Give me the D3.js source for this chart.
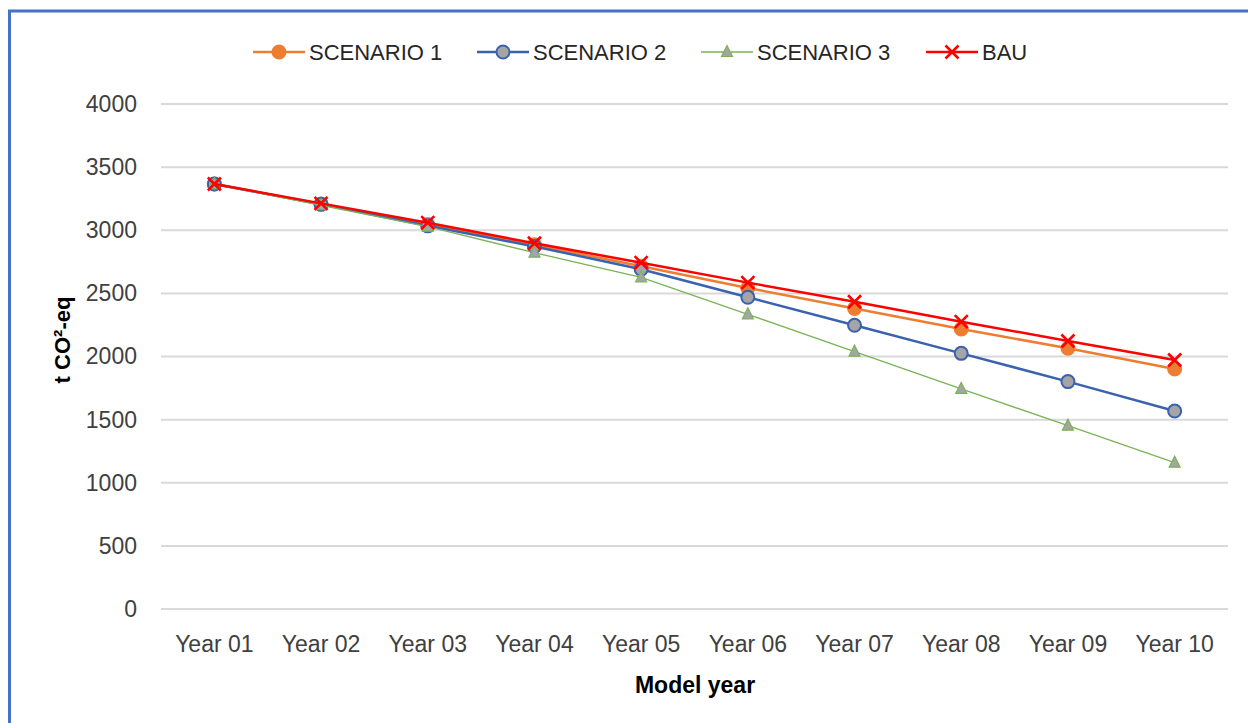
<!DOCTYPE html>
<html>
<head>
<meta charset="utf-8">
<script src="https://cdn.jsdelivr.net/npm/d3@7"></script>
<style>
  html, body { margin: 0; padding: 0; background: #fff; }
  svg { display: block; font-family: "Liberation Sans", Arial, sans-serif; }
</style>
</head>
<body>
<svg id="chart" width="1248" height="723"></svg>
<script>
const categories = ["Year 01","Year 02","Year 03","Year 04","Year 05","Year 06","Year 07","Year 08","Year 09","Year 10"];
const scenario1 = [3366, 3208, 3045, 2885, 2715, 2543, 2381, 2218, 2065, 1901];
const scenario2 = [3366, 3205, 3035, 2872, 2691, 2469, 2247, 2025, 1801, 1568];
const scenario3 = [3366, 3198, 3028, 2822, 2627, 2334, 2038, 1743, 1452, 1159];
const bau       = [3366, 3213, 3060, 2897, 2743, 2585, 2434, 2276, 2123, 1972];
const yTicks = [0, 500, 1000, 1500, 2000, 2500, 3000, 3500, 4000];
const seriesNames = ["SCENARIO 1", "SCENARIO 2", "SCENARIO 3", "BAU"];

(function () {
const series = [
  {name: seriesNames[0], values: scenario1, stroke: "#ED7D31", width: 2.5, marker: "circle", fill: "#ED7D31", mstroke: "#ED7D31"},
  {name: seriesNames[1], values: scenario2, stroke: "#3A62AE", width: 2.5, marker: "circle", fill: "#A5A5A5", mstroke: "#3A62AE"},
  {name: seriesNames[2], values: scenario3, stroke: "#7AB356", width: 1.3, marker: "triangle", fill: "#A5A5A5", mstroke: "#7AB356"},
  {name: seriesNames[3], values: bau,       stroke: "#FF0000", width: 2.5, marker: "cross", fill: "none", mstroke: "#FF0000"}
];

const svg = d3.select("#chart");

// outer border
svg.append("path")
  .attr("d", "M9.5,760 L9.5,11 L1260,11")
  .attr("fill", "none").attr("stroke", "#4472C4").attr("stroke-width", 3);

const mLeft = 161, mRight = 1228, mTop = 104, mBottom = 609;
const x = d3.scaleBand().domain(categories).range([mLeft, mRight]);
const y = d3.scaleLinear().domain([0, 4000]).range([mBottom, mTop]);

// gridlines
svg.append("g").selectAll("line").data(yTicks).join("line")
  .attr("x1", mLeft).attr("x2", mRight)
  .attr("y1", d => y(d)).attr("y2", d => y(d))
  .attr("stroke", "#D9D9D9").attr("stroke-width", 2);

// y axis
const yAxis = svg.append("g").attr("transform", `translate(${mLeft},0)`)
  .call(d3.axisLeft(y).tickValues(yTicks).tickSize(0).tickPadding(24).tickFormat(d3.format("d")));
yAxis.select(".domain").remove();
yAxis.selectAll("text").attr("font-size", 23).attr("fill", "#404040")
  .attr("font-family", "Liberation Sans, Arial, sans-serif");

// x axis
const xAxis = svg.append("g").attr("transform", `translate(0,${mBottom})`)
  .call(d3.axisBottom(x).tickSize(0).tickPadding(27));
xAxis.select(".domain").remove();
xAxis.selectAll("text").attr("font-size", 23).attr("fill", "#404040")
  .attr("font-family", "Liberation Sans, Arial, sans-serif");

// axis titles
svg.append("text")
  .attr("transform", "translate(70,340) rotate(-90)")
  .attr("text-anchor", "middle")
  .attr("font-size", 22).attr("font-weight", "bold").attr("fill", "#000")
  .text("t CO²-eq");
svg.append("text")
  .attr("x", 695).attr("y", 693)
  .attr("text-anchor", "middle")
  .attr("font-size", 23).attr("font-weight", "bold").attr("fill", "#000")
  .text("Model year");

const cx = c => x(c) + x.bandwidth() / 2;
const line = d3.line().x((d, i) => cx(categories[i])).y(d => y(d));

function drawMarker(g, s, px, py) {
  if (s.marker === "circle") {
    g.append("circle").attr("cx", px).attr("cy", py).attr("r", 6.5)
      .attr("fill", s.fill).attr("stroke", s.mstroke).attr("stroke-width", 2);
  } else if (s.marker === "triangle") {
    const h = 11, w = 11;
    g.append("path")
      .attr("d", `M${px},${py - h/2 - 1} L${px + w/2},${py + h/2 - 1} L${px - w/2},${py + h/2 - 1} Z`)
      .attr("fill", s.fill).attr("stroke", s.mstroke).attr("stroke-width", 1.2);
  } else if (s.marker === "cross") {
    const r = 6.5;
    g.append("path")
      .attr("d", `M${px - r},${py - r} L${px + r},${py + r} M${px - r},${py + r} L${px + r},${py - r}`)
      .attr("stroke", s.mstroke).attr("stroke-width", 2.6).attr("fill", "none");
  }
}

// series (draw in order so BAU on top)
series.forEach(s => {
  const g = svg.append("g");
  g.append("path").datum(s.values).attr("d", line)
    .attr("fill", "none").attr("stroke", s.stroke).attr("stroke-width", s.width)
    .attr("stroke-linejoin", "round");
  s.values.forEach((v, i) => drawMarker(g, s, cx(categories[i]), y(v)));
});

// legend
const legendX = [253, 477, 701, 926];
const leg = svg.append("g");
series.forEach((s, i) => {
  const lx = legendX[i], ly = 52;
  const g = leg.append("g");
  g.append("line").attr("x1", lx).attr("x2", lx + 52).attr("y1", ly).attr("y2", ly)
    .attr("stroke", s.stroke).attr("stroke-width", s.width);
  drawMarker(g, s, lx + 26, ly);
  g.append("text").attr("x", lx + 56).attr("y", ly + 8)
    .attr("font-size", 22).attr("fill", "#262626")
    .text(s.name);
});
})();
</script>
</body>
</html>
